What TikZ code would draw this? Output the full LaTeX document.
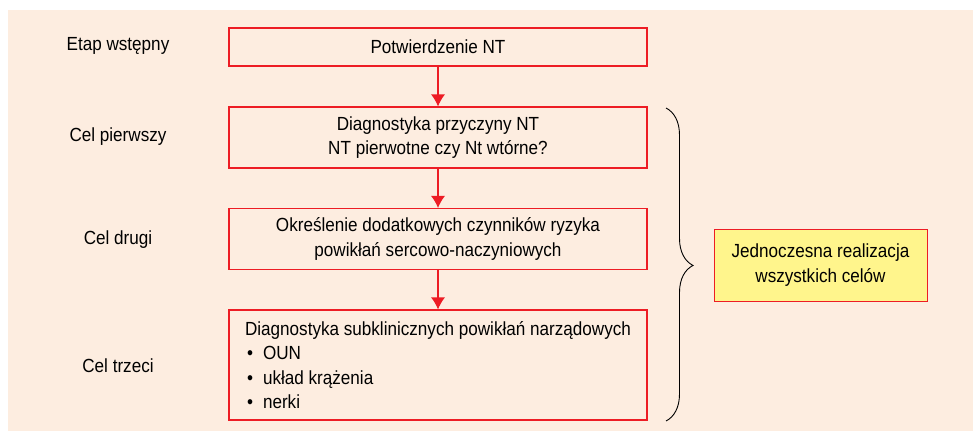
\documentclass[tikz,border=0pt]{standalone}
\usepackage{fontspec}
\setmainfont{Liberation Sans}[FakeStretch=0.9]
\usetikzlibrary{positioning, arrows.meta, decorations.pathreplacing}
\definecolor{tlo}{RGB}{253,237,224}
\definecolor{czerw}{RGB}{237,28,36}
\definecolor{zolty}{RGB}{255,245,140}

\begin{document}
\begin{tikzpicture}[x=1pt, y=1pt, font=\fontsize{19}{24.5}\selectfont]
    \useasboundingbox (0, 0) rectangle (973, -431);
    \fill[tlo] (8, -10) rectangle (973, -431);

    \begin{scope}[every node/.style={draw=czerw, line width=1.1pt, fill=tlo, minimum width=418pt, align=center, inner sep=0pt}]
        \node[minimum height=38pt]  (Pot) at (438, -47)    {Potwierdzenie NT};
        \node[minimum height=61pt]  (Dia) at (438, -137.5) {Diagnostyka przyczyny NT\\NT pierwotne czy Nt wtórne?};
        \node[minimum height=61pt]  (Okr) at (438, -239)   {Określenie dodatkowych czynników ryzyka\\powikłań sercowo-naczyniowych};
        \node[minimum height=110pt, align=left] (Sub) at (438, -365) {
            Diagnostyka subklinicznych powikłań narządowych\\
            \hspace{2pt}\textbullet\hspace{10pt}OUN\\
            \hspace{2pt}\textbullet\hspace{10pt}układ krążenia\\
            \hspace{2pt}\textbullet\hspace{10pt}nerki
        };
    \end{scope}

    \node[draw=czerw, line width=1pt, fill=zolty, minimum width=213pt, minimum height=72pt, align=center, inner sep=0pt]
        (Jed) at (820.5, -265) {Jednoczesna realizacja\\wszystkich celów};

    \begin{scope}[every node/.style={anchor=center}]
        \node (Etap) at (118, -46)  {Etap wstępny};
        \node (Cel1) at (118, -137) {Cel pierwszy};
        \node (Cel2) at (118, -240) {Cel drugi};
        \node (Cel3) at (118, -366) {Cel trzeci};
    \end{scope}

    \begin{scope}[>={Latex[length=12pt, width=14pt]}, czerw, line width=1.1pt]
        \draw[->] (Pot) -- (Dia);
        \draw[->] (Dia) -- (Okr);
        \draw[->] (Okr) -- (Sub);
    \end{scope}

    % klamra obejmujaca trzy cele
    \draw[line width=0.9pt, decorate, decoration={brace, amplitude=27pt, aspect=0.503}]
        (666, -108) -- (666, -421);
\end{tikzpicture}
\end{document}
